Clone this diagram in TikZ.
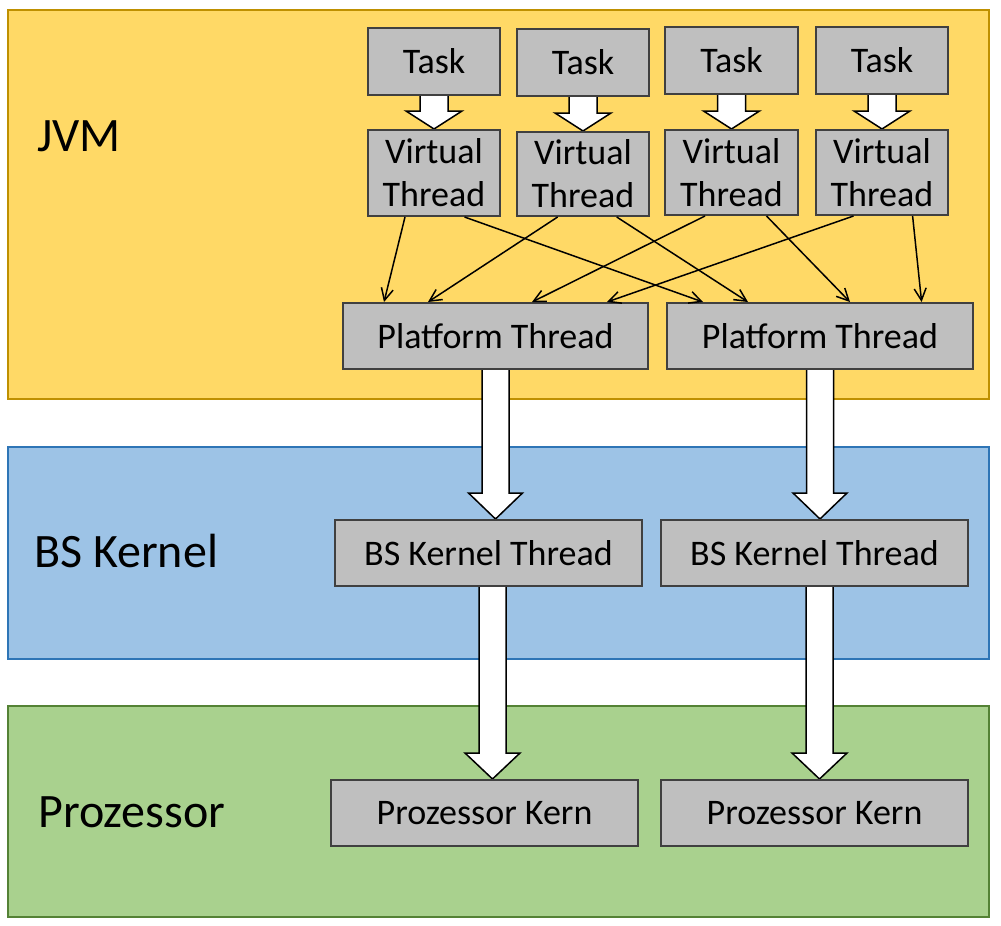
\documentclass[tikz,border=0pt]{standalone}
\usepackage{fontspec}
\setmainfont{Carlito}
\usetikzlibrary{arrows.meta,calc}
\definecolor{jvmfill}{HTML}{FFD966}
\definecolor{jvmline}{HTML}{BF9000}
\definecolor{bsfill}{HTML}{9DC3E6}
\definecolor{bsline}{HTML}{2E75B6}
\definecolor{prfill}{HTML}{A9D18E}
\definecolor{prline}{HTML}{548235}
\definecolor{boxfill}{HTML}{BFBFBF}
\definecolor{boxline}{HTML}{404040}
\pgfdeclarelayer{panel}
\pgfdeclarelayer{arr}
\pgfsetlayers{panel,arr,main}
\newcommand\blockarrow[5]{%
  \draw[bigarrow] let \p1=(#1), \p2=(#2) in
    (\x1-#3pt,\y1) -- (\x1-#3pt,\y2+#5pt) -- (\x1-#4pt,\y2+#5pt) -- (\x1,\y2)
    -- (\x1+#4pt,\y2+#5pt) -- (\x1+#3pt,\y2+#5pt) -- (\x1+#3pt,\y1);}
\begin{document}
\begin{tikzpicture}[x=1pt,y=-1pt,
  graybox/.style={draw=boxline, fill=boxfill, line width=2pt, anchor=north west,
    inner sep=0pt, align=center, font=\fontsize{36}{43}\selectfont},
  layerlabel/.style={anchor=base west, inner sep=0pt, font=\fontsize{48}{57}\selectfont},
  bigarrow/.style={draw=black, fill=white, line width=1.5pt, line join=miter},
  thinarrow/.style={draw=black, line width=1.5pt, -{Straight Barb[length=12pt,width=12pt,line width=1.5pt]}}
]
\useasboundingbox (0,0) rectangle (1001,926);
% panels
\begin{pgfonlayer}{panel}
\draw[fill=jvmfill, draw=jvmline, line width=2pt] (8,10) rectangle (989,399);
\draw[fill=bsfill, draw=bsline, line width=2pt] (8,447) rectangle (989,659);
\draw[fill=prfill, draw=prline, line width=2pt] (8,706) rectangle (989,917);
\end{pgfonlayer}
% layer labels
\node[layerlabel] (ljvm) at (37,151) {JVM};
\node[layerlabel] (lbs) at (34,567) {BS Kernel};
\node[layerlabel] (lpr) at (38,827) {Prozessor};
% tasks
\node[graybox, minimum width=132pt, minimum height=67pt] (t1) at (367,27) {Task};
\node[graybox, minimum width=132pt, minimum height=67pt] (t2) at (516,28) {Task};
\node[graybox, minimum width=133pt, minimum height=67pt] (t3) at (664,26) {Task};
\node[graybox, minimum width=132pt, minimum height=67pt] (t4) at (815,26) {Task};
% virtual threads
\node[graybox, minimum width=132pt, minimum height=86pt] (v1) at (367,129) {Virtual\\Thread};
\node[graybox, minimum width=132pt, minimum height=84pt] (v2) at (516,131) {Virtual\\Thread};
\node[graybox, minimum width=133pt, minimum height=85pt] (v3) at (664,129) {Virtual\\Thread};
\node[graybox, minimum width=132pt, minimum height=85pt] (v4) at (815,129) {Virtual\\Thread};
% platform threads
\node[graybox, minimum width=305pt, minimum height=66pt] (p1) at (342,302) {Platform Thread};
\node[graybox, minimum width=306pt, minimum height=66pt] (p2) at (666,302) {Platform Thread};
% kernel threads
\node[graybox, minimum width=307pt, minimum height=66pt] (k1) at (334,519) {BS Kernel Thread};
\node[graybox, minimum width=307pt, minimum height=66pt] (k2) at (660,519) {BS Kernel Thread};
% processor cores
\node[graybox, minimum width=307pt, minimum height=66pt] (c1) at (330,779) {Prozessor Kern};
\node[graybox, minimum width=307pt, minimum height=66pt] (c2) at (660,779) {Prozessor Kern};
% block arrows
\begin{pgfonlayer}{arr}
\blockarrow{t1.south}{v1.north}{14}{28}{18}
\blockarrow{t2.south}{v2.north}{14}{28}{18}
\blockarrow{t3.south}{v3.north}{14}{28}{18}
\blockarrow{t4.south}{v4.north}{14}{28}{18}
\blockarrow{p1.south}{k1.north}{13.5}{27}{26}
\blockarrow{p2.south}{k2.north}{13.5}{27}{26}
\blockarrow{[xshift=4pt]k1.south}{c1.north}{13.5}{27.5}{26}
\blockarrow{[xshift=5pt]k2.south}{c2.north}{13.5}{27.5}{26}
\end{pgfonlayer}
% thin connectors
\draw[thinarrow] ([xshift=38pt]v1.south west) -- ([xshift=42pt]p1.north west);
\draw[thinarrow] ([xshift=97.5pt]v1.south west) -- ([xshift=37pt]p2.north west);
\draw[thinarrow] ([xshift=41.6pt]v2.south west) -- ([xshift=86pt]p1.north west);
\draw[thinarrow] ([xshift=100.7pt]v2.south west) -- ([xshift=82pt]p2.north west);
\draw[thinarrow] ([xshift=41pt]v3.south west) -- ([xshift=190pt]p1.north west);
\draw[thinarrow] ([xshift=102.5pt]v3.south west) -- ([xshift=184pt]p2.north west);
\draw[thinarrow] ([xshift=38.5pt]v4.south west) -- ([xshift=265pt]p1.north west);
\draw[thinarrow] ([xshift=97.6pt]v4.south west) -- ([xshift=255.6pt]p2.north west);
\end{tikzpicture}
\end{document}
